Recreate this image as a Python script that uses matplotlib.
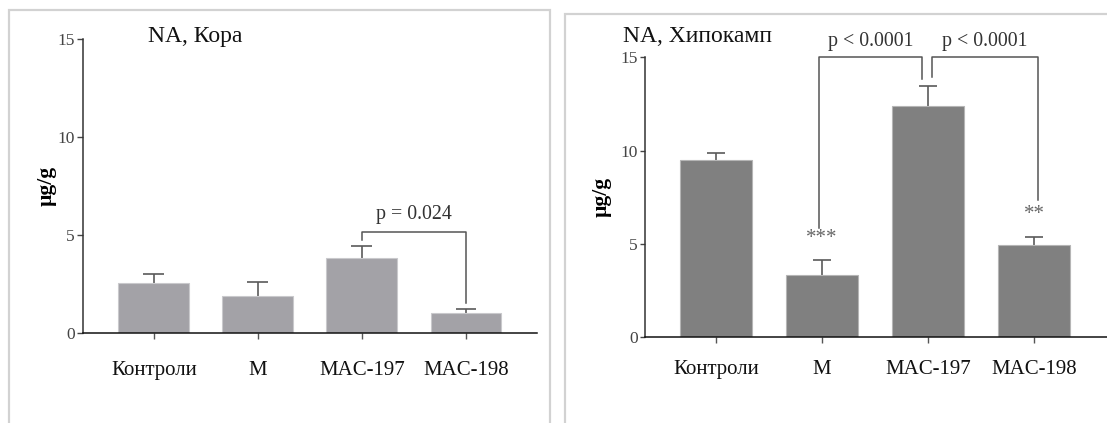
import matplotlib
matplotlib.use('Agg')
import matplotlib.pyplot as plt
from matplotlib.patches import Rectangle
import numpy as np

# NA concentrations, mean and upper SEM
groups = ['Контроли', 'M', 'MAC-197', 'MAC-198']
cortex_mean = [2.59, 1.91, 3.83, 1.06]
cortex_sem = [0.44, 0.70, 0.64, 0.17]
hippo_mean = [9.52, 3.35, 12.38, 4.97]
hippo_sem = [0.35, 0.78, 1.07, 0.41]
hippo_stars = ['', '***', '', '**']
star_y = [0, 5.29, 0, 6.58]

# brackets: (x left, x right, y top, left leg bottom, right leg bottom, label, label y)
cortex_brackets = [(2, 3, 5.16, 4.77, 1.57, 'p = 0.024', 6.06)]
hippo_brackets = [(0.975, 1.946, 15.04, 5.86, 13.85, 'p < 0.0001', 15.87),
                  (2.04, 3.04, 15.04, 13.95, 7.38, 'p < 0.0001', 15.87)]

W, H = 1107, 423
serif = 'Liberation Serif'

fig = plt.figure(figsize=(W / 100, H / 100), dpi=100)

# light panel frames
fig.add_artist(Rectangle((565 / W, -0.05), 1.2, 1.05 - 14 / H,
                         transform=fig.transFigure, fill=False,
                         edgecolor='#d2d2d2', linewidth=1.6))
fig.add_artist(Rectangle((9 / W, -0.05), (550 - 9) / W, 1.05 - 10 / H,
                         transform=fig.transFigure, fill=False,
                         edgecolor='#d2d2d2', linewidth=1.6))


def panel(rect, xlim, means, sems, color, edge, cap_half, brackets, title, title_x,
          labelpad, ylabel_x, tick_len):
    ax = fig.add_axes(rect)
    x = np.arange(len(groups))
    tops = np.array(means) + np.array(sems)
    # upper error bars only
    ax.vlines(x, means, tops, color='#5a5a5a', lw=1.2, zorder=1)
    ax.hlines(tops, x - cap_half, x + cap_half, color='#5a5a5a', lw=1.2, zorder=1)
    ax.bar(x, means, width=0.68, color=color, edgecolor=edge, linewidth=0.8, zorder=2)
    ax.set_xlim(*xlim)
    ax.set_ylim(0, 15)
    ax.set_yticks([0, 5, 10, 15])
    ax.set_xticks(x)
    ax.set_xticklabels(groups, fontsize=15, family=serif, color='#111')
    for lab in ax.get_yticklabels():
        lab.set_family(serif)
        lab.set_fontsize(12.5)
        lab.set_color('#444')
    ax.tick_params(axis='y', length=tick_len, width=1, color='#444', pad=1.5)
    ax.tick_params(axis='x', length=4.5, width=1, color='#555', pad=labelpad)
    for s in ['top', 'right']:
        ax.spines[s].set_visible(False)
    ax.spines['left'].set_color('#333')
    ax.spines['bottom'].set_color('#111')
    ax.spines['left'].set_linewidth(1.1)
    ax.spines['bottom'].set_linewidth(1.1)
    ax.set_ylabel('µg/g', family=serif, fontweight='bold', fontsize=15.5,
                  va='center')
    ax.yaxis.set_label_coords(ylabel_x, 0.5)
    for xl, xr, yt, yl, yr, txt, ty in brackets:
        ax.plot([xl, xl, xr, xr], [yl, yt, yt, yr], color='#555', lw=1.1,
                clip_on=False, zorder=3)
        ax.text((xl + xr) / 2, ty, txt, ha='center', va='center', fontsize=14.3,
                family=serif, color='#333', clip_on=False)
    fig.text(title_x / W, 1 - 41.7 / H, title, ha='left', va='baseline',
             fontsize=17, family=serif, color='#111')
    return ax


ax1 = panel([83 / W, 1 - 333.3 / H, (536.7 - 83) / W, (333.3 - 39.5) / H],
            (-0.68, 3.68), cortex_mean, cortex_sem, '#a3a2a7', '#c9c9cc', 0.1,
            cortex_brackets, 'NA, Кора', 148, 15.5, -0.08, 4.3)

ax2 = panel([645 / W, 1 - 337.3 / H, (1108.2 - 645) / W, (337.3 - 57.3) / H],
            (-0.67, 3.70), hippo_mean, hippo_sem, '#808080', '#b5b5b5', 0.086,
            hippo_brackets, 'NA, Хипокамп', 623.3, 12, -0.093, 3.6)

for i, st in enumerate(hippo_stars):
    if st:
        ax2.text(i, star_y[i], st, ha='center', va='center', fontsize=15,
                 family=serif, color='#666')

fig.savefig('out.png', dpi=100)
